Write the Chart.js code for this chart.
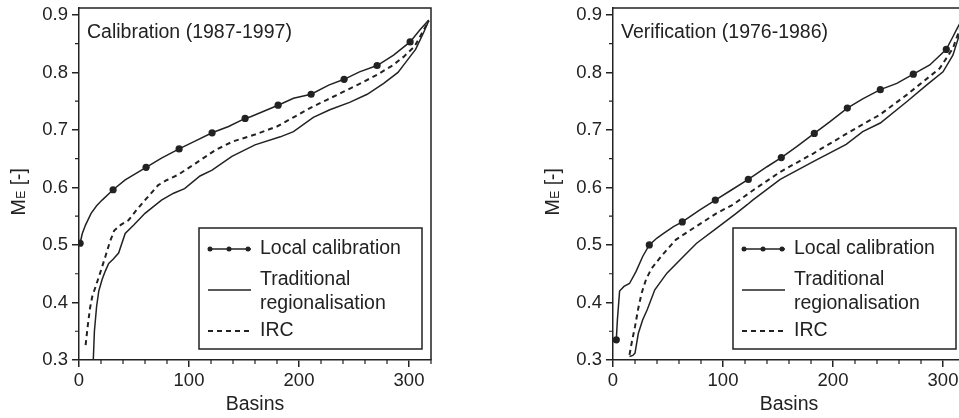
<!DOCTYPE html>
<html>
<head>
<meta charset="utf-8">
<script src="https://cdn.jsdelivr.net/npm/chart.js@4.4.1/dist/chart.umd.min.js"></script>
<style>
  html, body { margin: 0; padding: 0; background: #fff; overflow: hidden; width: 959px; height: 418px; }
  .panel { position: absolute; top: 0; width: 470px; height: 418px; }
  #p1 { left: 0; }
  #p2 { left: 534px; }
</style>
</head>
<body>
<div class="panel" id="p1"><canvas id="cal" width="470" height="418"></canvas></div>
<div class="panel" id="p2"><canvas id="ver" width="470" height="418"></canvas></div>
<script>
// Deux panneaux : calage (1987-1997) et vérification (1976-1986).

const FONT = "'Liberation Sans', Arial, Helvetica, sans-serif";
const INK = "#222";

const seriesNames = ["Local calibration", "Traditional\nregionalisation", "IRC"];
const xTicks = [0, 100, 200, 300];
const xMinorTicks = [20, 40, 60, 80, 120, 140, 160, 180, 220, 240, 260, 280, 320];
const yTicks = [0.3, 0.4, 0.5, 0.6, 0.7, 0.8, 0.9];
const yMinorTicks = [0.35, 0.45, 0.55, 0.65, 0.75, 0.85];

// Calibration (1987-1997)
const calLocalX = [1, 3, 6, 11, 16, 21, 31, 42, 61, 75, 91, 105, 121, 136, 151, 156, 181, 195, 211, 227, 241, 255, 271, 286, 301, 310, 318];
const calLocalY = [0.503, 0.52, 0.535, 0.555, 0.568, 0.578, 0.596, 0.613, 0.635, 0.651, 0.667, 0.68, 0.695, 0.706, 0.72, 0.723, 0.743, 0.755, 0.762, 0.778, 0.788, 0.801, 0.812, 0.83, 0.853, 0.874, 0.891];
const calLocalMarks = [1, 31, 61, 91, 121, 151, 181, 211, 241, 271, 301];
const calTradX = [13, 14, 16, 18, 21, 24, 27, 31, 36, 42, 50, 60, 75, 86, 96, 110, 121, 139, 160, 183, 195, 213, 228, 246, 262, 277, 290, 298, 306, 313, 318];
const calTradY = [0.30, 0.35, 0.393, 0.42, 0.44, 0.455, 0.468, 0.475, 0.486, 0.52, 0.535, 0.555, 0.578, 0.59, 0.598, 0.62, 0.63, 0.654, 0.674, 0.688, 0.697, 0.722, 0.735, 0.748, 0.762, 0.781, 0.8, 0.82, 0.84, 0.868, 0.89];
const calIrcX = [6, 8, 10, 12, 15, 19, 24, 28, 32, 38, 45, 52, 60, 72, 80, 90, 106, 124, 140, 160, 180, 195, 210, 225, 240, 255, 271, 285, 295, 305, 310, 318];
const calIrcY = [0.326, 0.36, 0.39, 0.41, 0.427, 0.45, 0.48, 0.505, 0.525, 0.535, 0.543, 0.56, 0.578, 0.604, 0.613, 0.622, 0.642, 0.665, 0.68, 0.692, 0.706, 0.722, 0.738, 0.752, 0.766, 0.78, 0.796, 0.812, 0.827, 0.845, 0.862, 0.89];

// Verification (1976-1986)
const verLocalX = [3, 4, 6, 10, 15, 21, 27, 33, 40, 46, 55, 63, 72, 79, 93, 108, 123, 140, 153, 167, 183, 197, 213, 227, 243, 258, 273, 288, 303, 309, 313, 318];
const verLocalY = [0.335, 0.37, 0.42, 0.428, 0.433, 0.454, 0.48, 0.50, 0.512, 0.52, 0.532, 0.54, 0.552, 0.561, 0.578, 0.596, 0.614, 0.636, 0.652, 0.671, 0.694, 0.714, 0.738, 0.754, 0.77, 0.781, 0.797, 0.813, 0.84, 0.862, 0.877, 0.895];
const verLocalMarks = [3, 33, 63, 93, 123, 153, 183, 213, 243, 273, 303];
const verTradX = [15, 18, 20, 23, 27, 31, 38, 49, 64, 76, 94, 112, 122, 127, 152, 182, 212, 227, 243, 267, 285, 300, 309, 314, 318];
const verTradY = [0.306, 0.308, 0.312, 0.346, 0.37, 0.387, 0.422, 0.451, 0.48, 0.503, 0.529, 0.555, 0.57, 0.578, 0.614, 0.645, 0.675, 0.697, 0.712, 0.749, 0.778, 0.801, 0.83, 0.86, 0.89];
const verIrcX = [15, 17, 20, 23, 26, 30, 35, 45, 57, 73, 94, 109, 128, 152, 182, 212, 243, 267, 282, 297, 309, 318];
const verIrcY = [0.309, 0.33, 0.358, 0.39, 0.416, 0.44, 0.459, 0.483, 0.509, 0.529, 0.555, 0.57, 0.596, 0.627, 0.659, 0.693, 0.727, 0.761, 0.784, 0.807, 0.842, 0.89];

const pairs = (xs, ys) => xs.map((x, i) => ({ x, y: ys[i] }));

// Cadre, graduations secondaires, titre du panneau, titre Y et légende.
const panelDecor = {
  id: "panelDecor",
  afterDraw(chart, args, opts) {
    const { ctx, chartArea: a, scales: { x, y } } = chart;
    ctx.save();
    ctx.strokeStyle = INK;
    ctx.lineWidth = 1.5;
    ctx.beginPath();
    ctx.moveTo(a.left, a.top);
    ctx.lineTo(a.right, a.top);
    ctx.lineTo(a.right, a.bottom);
    ctx.stroke();

    ctx.lineWidth = 1.2;
    ctx.beginPath();
    xMinorTicks.forEach((v) => { const px = x.getPixelForValue(v); ctx.moveTo(px, a.bottom); ctx.lineTo(px, a.bottom + 4); });
    yMinorTicks.forEach((v) => { const py = y.getPixelForValue(v); ctx.moveTo(a.left, py); ctx.lineTo(a.left - 4, py); });
    ctx.stroke();

    ctx.fillStyle = INK;
    ctx.textAlign = "left";
    ctx.textBaseline = "alphabetic";
    ctx.font = `19.5px ${FONT}`;
    ctx.fillText(opts.title, a.left + 8, a.top + 30);

    // M_E [-]
    ctx.save();
    ctx.translate(25, (a.top + a.bottom) / 2 + 8);
    ctx.rotate(-Math.PI / 2);
    const big = `19.5px ${FONT}`, small = `12px ${FONT}`;
    ctx.font = big;
    const wM = ctx.measureText("M").width, wR = ctx.measureText(" [-]").width;
    ctx.font = small;
    const wE = ctx.measureText("E").width;
    let sx = -(wM + wE + wR) / 2;
    ctx.font = big; ctx.fillText("M", sx, 0); sx += wM;
    ctx.font = small; ctx.fillText("E", sx + 0.5, 0); sx += wE + 0.5;
    ctx.font = big; ctx.fillText(" [-]", sx, 0);
    ctx.restore();

    // légende
    const bx = a.right - 232, by = a.bottom - 132, bw = 223, bh = 121;
    ctx.lineWidth = 1.5;
    ctx.strokeRect(bx, by, bw, bh);
    const rows = [21, 62, 103];
    const textRows = [[21], [52, 76], [103]];
    chart.data.datasets.forEach((ds, i) => {
      const ly = by + rows[i];
      ctx.strokeStyle = ds.borderColor;
      ctx.lineWidth = ds.borderWidth;
      ctx.setLineDash(ds.borderDash || []);
      ctx.beginPath();
      ctx.moveTo(bx + 9, ly);
      ctx.lineTo(bx + 52, ly);
      ctx.stroke();
      ctx.setLineDash([]);
      if (i === 0) {
        ctx.fillStyle = INK;
        [bx + 11, bx + 30, bx + 49].forEach((px) => { ctx.beginPath(); ctx.arc(px, ly, 2.5, 0, Math.PI * 2); ctx.fill(); });
      }
      ctx.fillStyle = INK;
      ctx.font = `19.5px ${FONT}`;
      ctx.textBaseline = "middle";
      ds.label.split("\n").forEach((line, j) => ctx.fillText(line, bx + 61, by + textRows[i][j]));
    });
    ctx.restore();
  },
};

function makeChart(id, title, local, marks, trad, irc) {
  return new Chart(document.getElementById(id), {
    type: "line",
    data: {
      datasets: [
        {
          label: seriesNames[0], data: local, borderColor: INK, borderWidth: 1.5,
          pointRadius: (c) => (c.raw && marks.includes(c.raw.x) ? 3.6 : 0),
          pointBackgroundColor: INK, pointBorderWidth: 0, pointHoverRadius: 0,
        },
        { label: seriesNames[1], data: trad, borderColor: INK, borderWidth: 1.5, pointRadius: 0 },
        { label: seriesNames[2], data: irc, borderColor: INK, borderWidth: 2, borderDash: [5, 4], pointRadius: 0 },
      ],
    },
    options: {
      responsive: false,
      animation: false,
      events: [],
      layout: { padding: { left: 0, top: 8, right: 39, bottom: 0 } },
      plugins: { legend: { display: false }, tooltip: { enabled: false }, panelDecor: { title } },
      scales: {
        x: {
          type: "linear", min: 0, max: 320,
          afterBuildTicks: (s) => { s.ticks = xTicks.map((v) => ({ value: v })); },
          afterFit: (s) => { s.height = 58; s.paddingLeft = 0; s.paddingRight = 0; },
          border: { display: true, color: INK, width: 1.5 },
          grid: { drawOnChartArea: false, drawTicks: true, tickLength: 7, color: INK, lineWidth: 1.5 },
          ticks: { color: INK, font: { family: FONT, size: 18.5 }, padding: 3, maxRotation: 0 },
          title: { display: true, text: "Basins", color: INK, font: { family: FONT, size: 19.5 }, padding: { top: 0, bottom: 2 } },
        },
        y: {
          type: "linear", min: 0.3, max: 0.912,
          afterBuildTicks: (s) => { s.ticks = yTicks.map((v) => ({ value: v })); },
          afterFit: (s) => { s.width = 79; s.paddingTop = 0; s.paddingBottom = 0; },
          border: { display: true, color: INK, width: 1.5 },
          grid: { drawOnChartArea: false, drawTicks: true, tickLength: 7, color: INK, lineWidth: 1.5 },
          ticks: { color: INK, font: { family: FONT, size: 18.5 }, padding: 4, callback: (v) => v.toFixed(1) },
        },
      },
    },
    plugins: [panelDecor],
  });
}

makeChart("cal", "Calibration (1987-1997)", pairs(calLocalX, calLocalY), calLocalMarks, pairs(calTradX, calTradY), pairs(calIrcX, calIrcY));
makeChart("ver", "Verification (1976-1986)", pairs(verLocalX, verLocalY), verLocalMarks, pairs(verTradX, verTradY), pairs(verIrcX, verIrcY));
</script>
</body>
</html>
